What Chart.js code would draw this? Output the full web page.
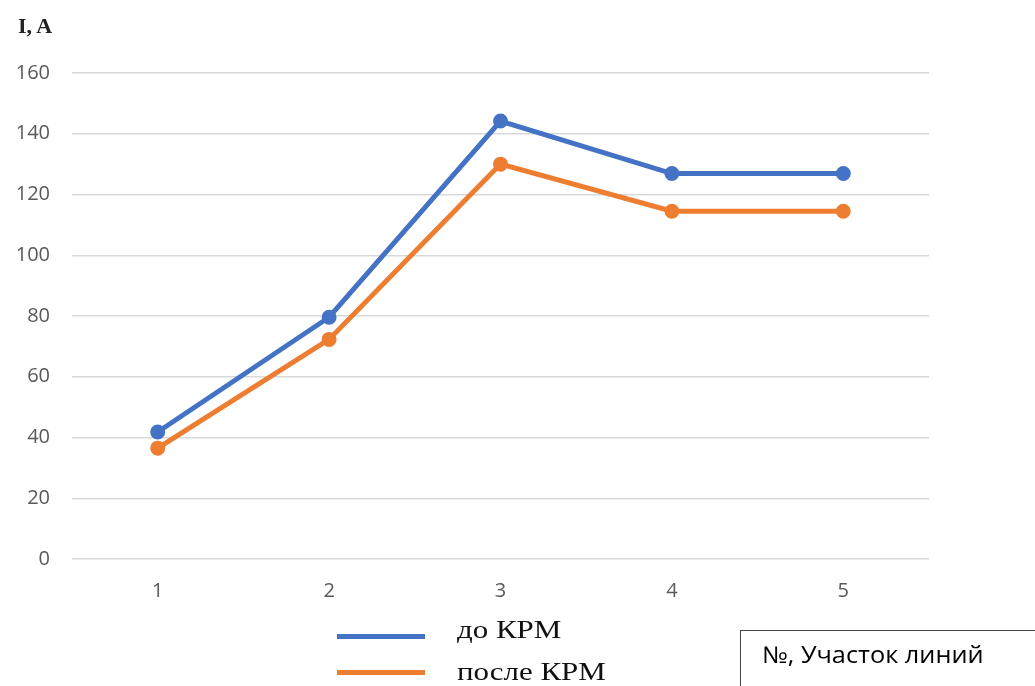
<!DOCTYPE html>
<html>
<head>
<meta charset="utf-8">
<script src="https://cdn.jsdelivr.net/npm/chart.js@4"></script>
<style>
  html, body { margin: 0; padding: 0; background: #fff; }
  #wrap { position: relative; width: 1035px; height: 686px; overflow: hidden; }
  canvas { position: absolute; left: 0; top: 0; }
  .serif { position: absolute; font-family: "Liberation Serif", serif; line-height: 1; white-space: nowrap; color: #111; transform-origin: 0 0; }
  .ylab { left: 18px; top: 16px; font-size: 20px; font-weight: bold; color: #222; transform: scaleX(1.1); }
  .legtx { left: 457px; font-size: 26px; transform: scaleX(1.19); }
  .sw { position: absolute; left: 337px; width: 88px; height: 5px; }
  .box { position: absolute; left: 740px; top: 630px; width: 300px; height: 70px; border: 1.5px solid #444; box-sizing: border-box; }
  .boxtx { position: absolute; left: 762px; top: 643px; font: 23px "Open Sans", sans-serif; line-height: 1; color: #000; white-space: nowrap; transform-origin: 0 0; transform: scaleX(1.1); }
</style>
</head>
<body>
<div id="wrap">
  <canvas id="c" width="1035" height="686"></canvas>
  <div class="serif ylab">I, A</div>
  <span class="sw" style="top:634px;background:#4472C4"></span>
  <span class="sw" style="top:670px;background:#ED7D31"></span>
  <div class="serif legtx" style="top:617px">до КРМ</div>
  <div class="serif legtx" style="top:659px">после КРМ</div>
  <div class="box"></div>
  <div class="boxtx">№, Участок линий</div>
</div>
<script>
const categories = ['1', '2', '3', '4', '5'];
const beforeKRM = [41.8, 79.6, 144.2, 126.9, 126.9];
const afterKRM = [36.5, 72.3, 130.0, 114.5, 114.5];
const seriesNames = ['до КРМ', 'после КРМ'];
const yTicks = [0, 20, 40, 60, 80, 100, 120, 140, 160];

new Chart(document.getElementById('c'), {
  type: 'line',
  data: {
    labels: categories,
    datasets: [
      { label: seriesNames[0], data: beforeKRM, borderColor: '#4472C4', backgroundColor: '#4472C4',
        borderWidth: 5, pointRadius: 5, pointHoverRadius: 5, tension: 0 },
      { label: seriesNames[1], data: afterKRM, borderColor: '#ED7D31', backgroundColor: '#ED7D31',
        borderWidth: 5, pointRadius: 5, pointHoverRadius: 5, tension: 0 }
    ]
  },
  options: {
    responsive: false,
    animation: false,
    layout: { padding: { top: 73, right: 106, bottom: 77, left: 0 } },
    plugins: { legend: { display: false }, tooltip: { enabled: false } },
    scales: {
      x: {
        offset: true,
        grid: { display: false, drawTicks: false },
        border: { display: false },
        ticks: { color: '#595959', font: { family: 'Open Sans', size: 20 }, padding: 20 },
        afterFit(s) { s.height = 50; }
      },
      y: {
        min: 0, max: 160,
        afterBuildTicks(s) { s.ticks = yTicks.map(v => ({ value: v })); },
        grid: { color: '#D9D9D9', lineWidth: 1.5, drawTicks: false },
        border: { display: false },
        ticks: { color: '#595959', font: { family: 'Open Sans', size: 20 }, padding: 22 },
        afterFit(s) { s.width = 72; }
      }
    }
  }
});
</script>
</body>
</html>
